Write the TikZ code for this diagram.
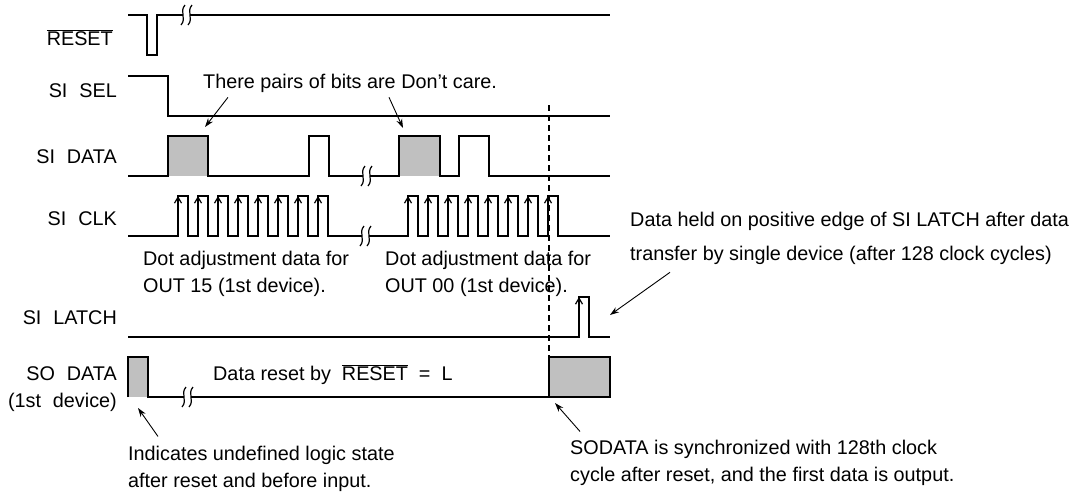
\documentclass[tikz,border=0pt]{standalone}
\usepackage{fontspec}
\setmainfont{Liberation Sans}
\usepackage{tikz}
\usetikzlibrary{arrows.meta,calc}
\definecolor{boxgray}{RGB}{192,192,192}
\newcommand\sigbreak[2]{%
  \draw[brk] (#1+2,#2-10) .. controls (#1-4,#2-3) and (#1+4,#2+3) .. (#1-2,#2+10);
  \draw[brk] (#1+9,#2-10) .. controls (#1+3,#2-3) and (#1+11,#2+3) .. (#1+5,#2+10);}

\begin{document}
\begin{tikzpicture}[x=1pt,y=-1pt,
  sig/.style={line width=2.4pt,line join=miter},
  brk/.style={line width=1.2pt},
  note/.style={line width=0.9pt,-{Stealth[length=9pt,width=6pt]}},
  clkedge/.style={line width=1.2pt,-{Straight Barb[length=6pt,width=7pt]}},
  lbl/.style={anchor=base east,inner sep=0pt,font=\fontsize{19.8}{27}\selectfont},
  txt/.style={anchor=base west,inner sep=0pt,align=left,font=\fontsize{19.8}{27}\selectfont}]
\useasboundingbox (0,0) rectangle (1081,491);

% signal names
\node[lbl] (lblreset) at (113,45) {$\overline{\mbox{RESET}}$};
\node[lbl] (lblsel) at (117,97) {SI\hspace{0.6em}SEL};
\node[lbl] (lbldata) at (117,163) {SI\hspace{0.6em}DATA};
\node[lbl] (lblclk) at (117,225) {SI\hspace{0.6em}CLK};
\node[lbl] (lbllatch) at (117,324) {SI\hspace{0.6em}LATCH};
\node[lbl] (lblso) at (117,380) {SO\hspace{0.6em}DATA};
\node[lbl] (lbldev) at (117,407) {(1st\hspace{0.6em}device)};

% gray boxes and sync line
\fill[boxgray] (168,136) rectangle (208,176);
\fill[boxgray] (399,136) rectangle (440,176);
\fill[boxgray] (128,357) rectangle (148,397);
\fill[boxgray] (549,357) rectangle (610,397);
\draw[line width=1.2pt,dash pattern=on 6pt off 4pt] (549,105) -- (549,397);

% waveforms
\draw[sig] (128,15) -- (147,15) -- (147,55) -- (157,55) -- (157,15) -- (183,15);
\draw[sig] (190,15) -- (610,15);
\sigbreak{183}{15}

\draw[sig] (128,76) -- (168,76) -- (168,116) -- (610,116);

\draw[sig] (128,176) -- (168,176) -- (168,136) -- (208,136) -- (208,176) -- (309,176)
  -- (309,136) -- (329,136) -- (329,176) -- (363,176);
\draw[sig] (370,176) -- (399,176) -- (399,136) -- (440,136) -- (440,176) -- (459,176)
  -- (459,136) -- (489,136) -- (489,176) -- (610,176);
\sigbreak{363}{176}

\draw[sig] (128,236) -- (178,236)
  \foreach \k in {0,...,7}{ -- ++(0,-40) -- ++(10,0) -- ++(0,40) -- ++(10,0)} -- (362,236);
\draw[sig] (369,236) -- (408,236)
  \foreach \k in {0,...,7}{ -- ++(0,-40) -- ++(10,0) -- ++(0,40) -- ++(10,0)} -- (610,236);
\sigbreak{362}{236}
\foreach \k in {0,...,7}{
  \draw[clkedge] (178+20*\k,236) -- (178+20*\k,196);
  \draw[clkedge] (408+20*\k,236) -- (408+20*\k,196);
}

\draw[sig] (128,337) -- (579,337) -- (579,297) -- (589,297) -- (589,337) -- (610,337);
\draw[clkedge] (579,337) -- (579,297);

\draw[sig] (128,397) -- (128,357) -- (148,357) -- (148,397) -- (184,397);
\draw[sig] (191,397) -- (549,397) -- (549,357) -- (610,357) -- (610,397) -- (549,397);
\sigbreak{184}{397}

% notes (multi-line nodes sit on their last line)
\node[txt] (care) at (203,88) {There pairs of bits are Don't care.};
\node[txt] (dot15) at (143,292) {Dot adjustment data for\\OUT 15 (1st device).};
\node[txt] (dot00) at (385,292) {Dot adjustment data for\\OUT 00 (1st device).};
\node[txt,font=\fontsize{19.8}{34}\selectfont] (held) at (630,260)
  {Data held on positive edge of SI LATCH after data\\transfer by single device (after 128 clock cycles)};
\node[txt] (reset) at (213,380) {Data reset by\ \ $\overline{\mbox{RESET}}$\ \ =\ \ L};
\node[txt] (undef) at (128,487) {Indicates undefined logic state\\after reset and before input.};
\node[txt] (sync) at (570,481) {SODATA is synchronized with 128th clock\\cycle after reset, and the first data is output.};

\coordinate (care1) at (205,127);
\coordinate (care2) at (403,128);
\coordinate (latchpt) at (610,315);
\coordinate (undefpt) at (138,408);
\coordinate (syncpt) at (555,403);
\draw[note] ($(care.south west)+(25,5)$) -- (care1);
\draw[note] ($(care.south west)+(186,5)$) -- (care2);
\draw[note] ($(held.south west)+(40,8)$) -- (latchpt);
\draw[note] ($(undef.north west)+(30,-9)$) -- (undefpt);
\draw[note] ($(sync.north west)+(10,-8)$) -- (syncpt);
\end{tikzpicture}
\end{document}
